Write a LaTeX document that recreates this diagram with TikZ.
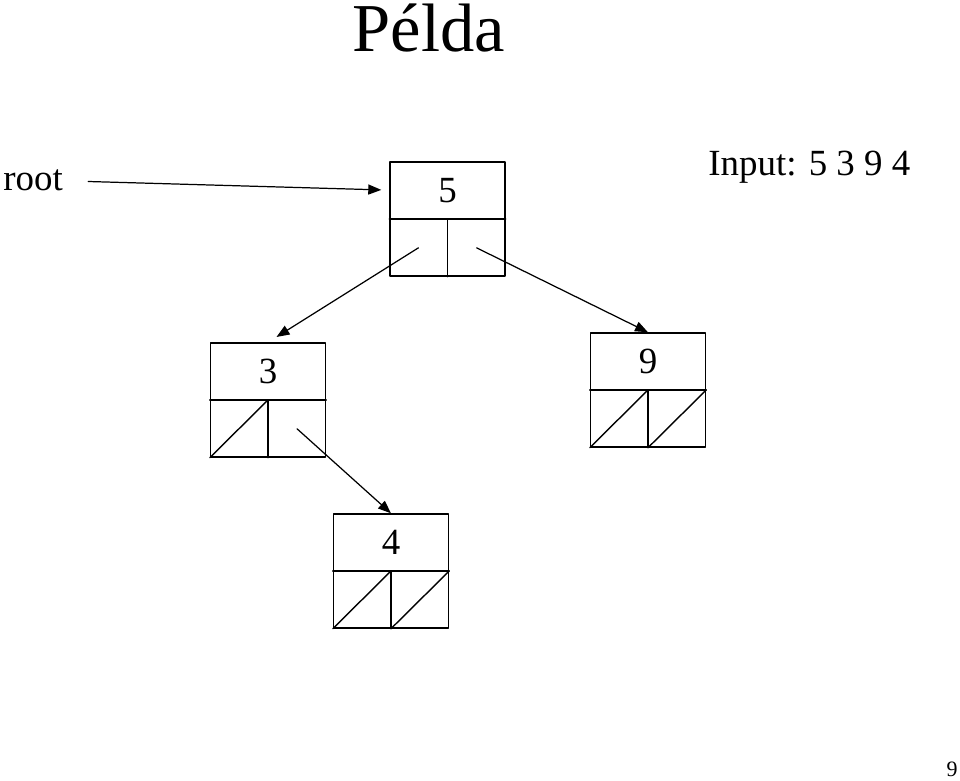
\documentclass[tikz,border=0pt]{standalone}
\usepackage{fontspec}
\setmainfont{Liberation Serif}
\usetikzlibrary{arrows.meta,calc}

\begin{document}
\begin{tikzpicture}[line cap=round, line join=round]

% --- Global TikZ Styles ---
\tikzset{
    treebox/.style={
        draw=black,
        line width=0.8pt,
        minimum width=2.3cm,
        minimum height=2.28cm,
        inner sep=0pt
    },
    boxline/.style={
        draw=black,
        line width=0.8pt
    },
    pointer/.style={
        -{Triangle[length=0.26cm, width=0.2cm]},
        draw=black,
        line width=0.7pt
    },
    valuetext/.style={
        font=\fontsize{21}{24}\selectfont,
        inner sep=0pt
    },
    plaintext/.style={
        font=\fontsize{21}{24}\selectfont,
        inner sep=0pt
    }
}

% --- Kader ---
\useasboundingbox (0,0) rectangle (19.2,15.62);

% --- Titel en teksten ---
\node[font=\fontsize{39}{44}\selectfont, inner sep=0pt, anchor=base] (title)
    at (8.58,14.58) {Példa};
\node[plaintext, anchor=base west] (root) at (0.06,11.8) {root};
\node[plaintext, anchor=base west] (input) at (14.16,12.1) {Input: 5 3 9 4};
\node[font=\fontsize{12.5}{14}\selectfont, inner sep=0pt, anchor=base east] (page)
    at (19.16,0.08) {9};

% --- Knoop 5 ---
\node[treebox] (n5) at (8.95,11.24) {};
\draw[boxline] (n5.west) -- (n5.east);
\draw[boxline] (n5.center) -- (n5.south);
\node[valuetext] (v5) at ($(n5.center)!0.5!(n5.north)$) {5};
\coordinate (n5left) at ($(n5.west)!0.5!(n5.south)$);
\coordinate (n5right) at ($(n5.east)!0.5!(n5.south)$);
\coordinate (n5in) at ($(n5.north west)!0.5!(n5.west)$);

% --- Knoop 3 ---
\node[treebox] (n3) at (5.36,7.62) {};
\draw[boxline] (n3.west) -- (n3.east);
\draw[boxline] (n3.center) -- (n3.south);
\node[valuetext] (v3) at ($(n3.center)!0.5!(n3.north)$) {3};
\coordinate (n3right) at ($(n3.east)!0.5!(n3.south)$);
\draw[boxline] (n3.south west) -- (n3.center);

% --- Knoop 9 ---
\node[treebox] (n9) at (12.96,7.82) {};
\draw[boxline] (n9.west) -- (n9.east);
\draw[boxline] (n9.center) -- (n9.south);
\node[valuetext] (v9) at ($(n9.center)!0.5!(n9.north)$) {9};
\draw[boxline] (n9.south west) -- (n9.center);
\draw[boxline] (n9.south) -- (n9.east);

% --- Knoop 4 ---
\node[treebox] (n4) at (7.82,4.2) {};
\draw[boxline] (n4.west) -- (n4.east);
\draw[boxline] (n4.center) -- (n4.south);
\node[valuetext] (v4) at ($(n4.center)!0.5!(n4.north)$) {4};
\draw[boxline] (n4.south west) -- (n4.center);
\draw[boxline] (n4.south) -- (n4.east);

% --- Pijlen ---
\draw[pointer, shorten <=0.5cm, shorten >=0.16cm] (root.east) -- (n5in);
\draw[pointer, shorten >=0.2cm] (n5left) -- (n3.north);
\draw[pointer] (n5right) -- (n9.north);
\draw[pointer] (n3right) -- (n4.north);

\end{tikzpicture}
\end{document}
